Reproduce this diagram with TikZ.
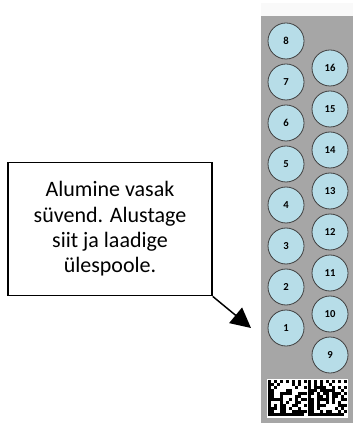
\documentclass[tikz,border=0pt]{standalone}
\usepackage{fontspec}
\setmainfont{Carlito}
\usetikzlibrary{arrows.meta,positioning}
\definecolor{panelgray}{HTML}{A6A6A6}
\definecolor{wellblue}{HTML}{B7DDE8}
\tikzset{
	well/.style={circle,draw=black!75,line width=0.6pt,fill=wellblue,minimum size=27pt,inner sep=0pt,font=\bfseries\fontsize{8}{9}\selectfont},
	notebox/.style={draw,line width=1.1pt,fill=white,minimum width=153pt,minimum height=100pt,align=center,font=\fontsize{16.5}{19}\selectfont},
	pointer/.style={line width=1.1pt,-{Triangle[length=15pt,width=15pt]}}
}
\begin{document}
\begin{tikzpicture}[x=0.75pt,y=-0.75pt]
\useasboundingbox (0,0) rectangle (353,423);
% plate
\fill[gray!5] (261,3) rectangle (353,16);
\fill[panelgray] (261,16) rectangle (353,423);
% wells
\foreach \n in {1,...,8}
	\node[well] (w\n) at (286,{369-41*\n}) {\n};
\foreach \n in {9,...,16}
	\node[well] (w\n) at (330,{724-41*\n}) {\n};
% barcode
\fill[white] (267,379) rectangle (348,418);
\pgfmathsetseed{11}
\foreach \x in {268,308}{
	\foreach \i in {0,...,12}{
		\foreach \j in {0,...,11}{
			\pgfmathtruncatemacro\bit{rnd>0.5}
			\ifnum\i=0 \def\bit{1}\fi
			\ifnum\j=11 \def\bit{1}\fi
			\ifnum\j=0 \pgfmathtruncatemacro\bit{mod(\i+1,2)}\fi
			\ifnum\i=12 \pgfmathtruncatemacro\bit{mod(\j+1,2)}\fi
			\ifnum\bit=1
				\fill[black] ({\x+3*\i},{380+3*\j}) rectangle ++(3,3);
			\fi
		}
	}
}
% callout
\node[notebox] (note) at (110,229) {Alumine vasak\\süvend. Alustage\\siit ja laadige\\ülespoole.};
\coordinate (tip) at (251,328);
\draw[pointer] (note.south east) -- (tip);
\end{tikzpicture}
\end{document}
